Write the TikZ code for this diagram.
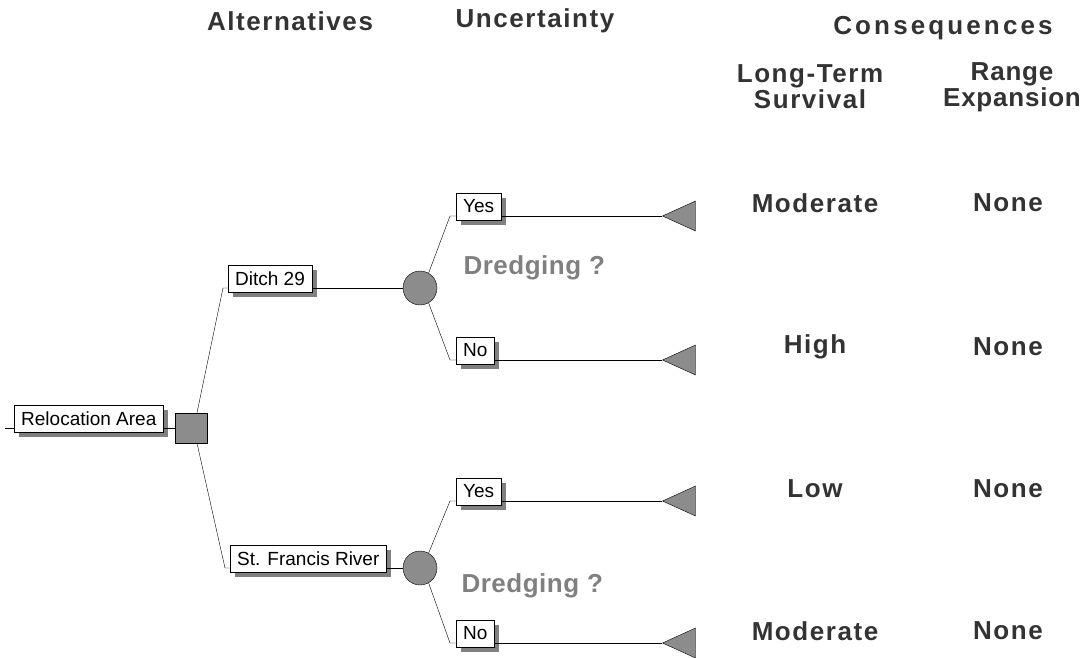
\documentclass[tikz,border=0pt]{standalone}
\usepackage{fontspec}
\setmainfont{Liberation Sans}
\usetikzlibrary{shapes.geometric,shadows}

\begin{document}
\begin{tikzpicture}[
    x=1pt, y=-1pt,
    head/.style={font=\fontsize{26}{26}\selectfont\bfseries\addfontfeature{LetterSpace=6}, text=black!80},
    cons/.style={font=\fontsize{26}{26}\selectfont\bfseries\addfontfeature{LetterSpace=6}, text=black!80},
    query/.style={font=\fontsize{26}{26}\selectfont\bfseries\addfontfeature{LetterSpace=2}, text=black!50},
    choice/.style={draw, fill=white, thin, font=\fontsize{19}{21}\selectfont, inner xsep=7pt, minimum height=27pt, anchor=south west, drop shadow={shadow xshift=5pt, shadow yshift=-5pt, fill=black!50, opacity=1}},
    decision/.style={draw, fill=black!45, minimum width=32pt, minimum height=30pt, inner sep=0pt},
    chance/.style={circle, draw, fill=black!45, minimum size=34pt, inner sep=0pt},
    payoff/.style={isosceles triangle, shape border rotate=180, isosceles triangle stretches, draw, fill=black!45, minimum width=30pt, minimum height=33pt, inner sep=0pt, anchor=apex},
    branch/.style={thin}
  ]
  \useasboundingbox (0,0) rectangle (1087,658);
  % Draw the column headings.
  \node[head] (alt) at (290,21) {Alternatives};
  \node[head] (unc) at (535,21) {Uncertainty};
  \node[head, font=\fontsize{26}{26}\selectfont\bfseries\addfontfeature{LetterSpace=12}] (con) at (943,28) {Consequences};
  \node[head, align=center] (surv) at (810,87) {Long-Term\\Survival};
  \node[head, align=center, font=\fontsize{26}{26}\selectfont\bfseries\addfontfeature{LetterSpace=3}] (range) at (1012,87) {Range\\Expansion};
  % Draw the decision and the alternatives.
  \coordinate (start) at (5,428);
  \node[choice] (reloc) at (14,432) {Relocation Area};
  \node[decision] (sq) at (191,428) {};
  \node[choice] (ditch) at (228,292) {Ditch 29};
  \node[choice] (stf) at (230,572) {St. Francis River};
  % Draw the chance nodes and outcomes.
  \node[chance] (dc) at (420,288) {};
  \node[chance] (sc) at (420,568) {};
  \node[query, anchor=west] (dq1) at (460,268) {Dredging ?};
  \node[query, anchor=west] (dq2) at (458,586) {Dredging ?};
  \node[choice] (dy) at (456,220) {Yes};
  \node[choice] (dn) at (456,364) {No};
  \node[choice] (sy) at (456,505) {Yes};
  \node[choice] (sn) at (456,647) {No};
  % Draw the end points.
  \node[payoff] (tdy) at (662,216) {};
  \node[payoff] (tdn) at (662,360) {};
  \node[payoff] (tsy) at (662,501) {};
  \node[payoff] (tsn) at (662,643) {};
  % Draw the branches.
  \draw[branch] (start) -- ([yshift=4pt]reloc.south west);
  \draw[branch] ([yshift=4pt]reloc.south east) -- (sq);
  \draw[branch] ([xshift=6pt]sq.north) -- ([xshift=-5pt,yshift=4pt]ditch.south west) -- ([yshift=4pt]ditch.south west);
  \draw[branch] ([xshift=6pt]sq.south) -- ([xshift=-5pt,yshift=4pt]stf.south west) -- ([yshift=4pt]stf.south west);
  \draw[branch] ([yshift=4pt]ditch.south east) -- (dc);
  \draw[branch] ([yshift=4pt]stf.south east) -- (sc);
  \draw[branch] (dc.60) -- ([xshift=-6pt,yshift=4pt]dy.south west) -- ([yshift=4pt]dy.south west);
  \draw[branch] (dc.-60) -- ([xshift=-6pt,yshift=4pt]dn.south west) -- ([yshift=4pt]dn.south west);
  \draw[branch] (sc.60) -- ([xshift=-6pt,yshift=4pt]sy.south west) -- ([yshift=4pt]sy.south west);
  \draw[branch] (sc.-60) -- ([xshift=-6pt,yshift=4pt]sn.south west) -- ([yshift=4pt]sn.south west);
  \draw[branch] ([yshift=4pt]dy.south east) -- (tdy.apex);
  \draw[branch] ([yshift=4pt]dn.south east) -- (tdn.apex);
  \draw[branch] ([yshift=4pt]sy.south east) -- (tsy.apex);
  \draw[branch] ([yshift=4pt]sn.south east) -- (tsn.apex);
  % Draw the consequences.
  \node[cons] (c1a) at (815,203) {Moderate};
  \node[cons] (c1b) at (1008,203) {None};
  \node[cons] (c2a) at (815,347) {High};
  \node[cons] (c2b) at (1008,347) {None};
  \node[cons] (c3a) at (815,489) {Low};
  \node[cons] (c3b) at (1008,489) {None};
  \node[cons] (c4a) at (815,631) {Moderate};
  \node[cons] (c4b) at (1008,631) {None};
\end{tikzpicture}
\end{document}
